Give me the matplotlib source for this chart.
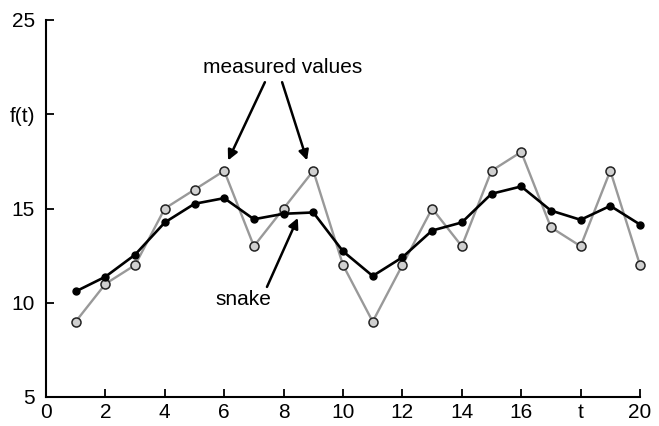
import numpy as np
import matplotlib.pyplot as plt

plt.rcParams['font.family'] = ['Liberation Sans', 'DejaVu Sans']

# data
t = np.arange(1, 21)
measured = [9, 11, 12, 15, 16, 17, 13, 15, 17, 12,
            9, 12, 15, 13, 17, 18, 14, 13, 17, 12]
snake = [10.6, 11.38, 12.55, 14.26, 15.25, 15.55, 14.43, 14.72, 14.79, 12.73,
         11.42, 12.41, 13.83, 14.26, 15.78, 16.17, 14.89, 14.40, 15.14, 14.15]
xticks = [0, 2, 4, 6, 8, 10, 12, 14, 16, 18, 20]
xlabels = ['0', '2', '4', '6', '8', '10', '12', '14', '16', 't', '20']
yticks = [5, 10, 15, 20, 25]
ylabels = ['5', '10', '15', 'f(t)', '25']

fig = plt.figure(figsize=(6.59, 4.26), dpi=100)
ax = fig.add_axes([46/659, 1 - 397/426, (640-46)/659, (397-20)/426])

ax.plot(t, measured, color='#999999', lw=1.7, marker='o', ms=6.5,
        mfc='#d0d0d0', mec='#222222', mew=1.1, zorder=2, clip_on=False)
ax.plot(t, snake, color='black', lw=1.9, marker='o', ms=5, mfc='black',
        mec='black', zorder=3, clip_on=False)

arrow = dict(arrowstyle='-|>,head_length=0.6,head_width=0.3', color='black', lw=1.8,
             shrinkA=0, shrinkB=0)
ax.text(7.98, 22.5, 'measured values', ha='center', va='center', fontsize=15)
ax.annotate('', xy=(6.13, 17.55), xytext=(7.37, 21.7), arrowprops=arrow)
ax.annotate('', xy=(8.79, 17.55), xytext=(7.95, 21.7), arrowprops=arrow)
ax.text(6.63, 10.15, 'snake', ha='center', va='center', fontsize=15)
ax.annotate('', xy=(8.48, 14.5), xytext=(7.44, 10.84), arrowprops=arrow)

ax.set_xlim(0, 20)
ax.set_ylim(5, 25)
ax.set_xticks(xticks)
ax.set_xticklabels(xlabels)
ax.set_yticks(yticks)
ax.set_yticklabels(ylabels)
ax.tick_params(direction='in', length=6, width=1.3, labelsize=15)
ax.tick_params(axis='x', pad=4)
ax.tick_params(axis='y', pad=8)
ax.spines['top'].set_visible(False)
ax.spines['right'].set_visible(False)
ax.spines['left'].set_linewidth(1.5)
ax.spines['bottom'].set_linewidth(1.5)

plt.savefig('out.png', dpi=100)
